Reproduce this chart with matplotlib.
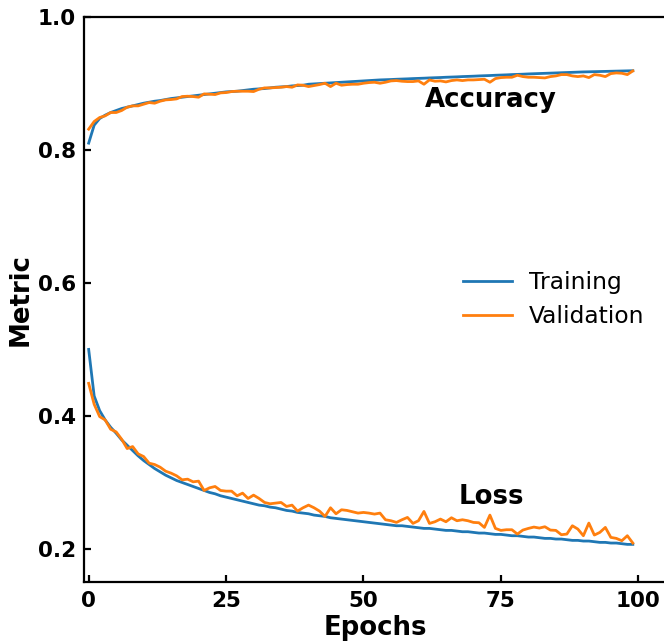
import matplotlib
matplotlib.use("Agg")
import matplotlib.pyplot as plt

epochs = list(range(100))

train_loss = [0.500, 0.430, 0.408, 0.394, 0.383, 0.374, 0.364, 0.356, 0.348, 0.340,
              0.333, 0.327, 0.321, 0.316, 0.311, 0.307, 0.303, 0.300, 0.297, 0.294,
              0.291, 0.288, 0.285, 0.283, 0.280, 0.278, 0.276, 0.274, 0.272, 0.270,
              0.268, 0.266, 0.265, 0.263, 0.262, 0.260, 0.258, 0.257, 0.255, 0.254,
              0.253, 0.251, 0.250, 0.249, 0.247, 0.246, 0.245, 0.244, 0.243, 0.242,
              0.241, 0.240, 0.239, 0.238, 0.237, 0.236, 0.235, 0.235, 0.234, 0.233,
              0.232, 0.231, 0.231, 0.230, 0.229, 0.228, 0.228, 0.227, 0.226, 0.226,
              0.225, 0.224, 0.224, 0.223, 0.222, 0.222, 0.221, 0.220, 0.220, 0.219,
              0.218, 0.218, 0.217, 0.216, 0.216, 0.215, 0.215, 0.214, 0.213, 0.213,
              0.212, 0.212, 0.211, 0.210, 0.210, 0.209, 0.209, 0.208, 0.207, 0.207]

val_loss = [0.449, 0.4175, 0.399, 0.394, 0.380, 0.376, 0.365, 0.351, 0.354, 0.343,
            0.339, 0.329, 0.327, 0.323, 0.317, 0.314, 0.310, 0.304, 0.305, 0.301,
            0.302, 0.288, 0.292, 0.294, 0.288, 0.287, 0.287, 0.280, 0.284, 0.276,
            0.281, 0.276, 0.270, 0.268, 0.269, 0.270, 0.264, 0.266, 0.257, 0.262,
            0.266, 0.262, 0.257, 0.249, 0.262, 0.253, 0.259, 0.258, 0.256, 0.254,
            0.255, 0.254, 0.2525, 0.254, 0.244, 0.2425, 0.240, 0.244, 0.2475, 0.2385,
            0.2425, 0.2565, 0.2385, 0.241, 0.245, 0.241, 0.247, 0.2425, 0.244, 0.2425,
            0.240, 0.2395, 0.2325, 0.251, 0.231, 0.228, 0.229, 0.229, 0.2225, 0.2285,
            0.231, 0.233, 0.2315, 0.2335, 0.2285, 0.228, 0.2215, 0.2225, 0.235, 0.230,
            0.220, 0.239, 0.221, 0.225, 0.2325, 0.2175, 0.216, 0.2125, 0.220, 0.209]

train_acc = [0.810, 0.837, 0.847, 0.852, 0.856, 0.859, 0.862, 0.864, 0.866, 0.868,
             0.870, 0.8715, 0.873, 0.874, 0.8755, 0.877, 0.878, 0.879, 0.880, 0.881,
             0.882, 0.883, 0.884, 0.885, 0.886, 0.887, 0.8875, 0.888, 0.889, 0.890,
             0.891, 0.8915, 0.892, 0.893, 0.894, 0.8945, 0.895, 0.896, 0.8965, 0.897,
             0.8985, 0.899, 0.8995, 0.900, 0.9005, 0.901, 0.9015, 0.902, 0.9025, 0.903,
             0.9035, 0.904, 0.9045, 0.905, 0.9053, 0.9056, 0.906, 0.9063, 0.9066, 0.907,
             0.9073, 0.9076, 0.908, 0.9083, 0.9086, 0.909, 0.9093, 0.9096, 0.910, 0.9103,
             0.9106, 0.911, 0.9113, 0.9116, 0.912, 0.9123, 0.9126, 0.913, 0.9133, 0.9136,
             0.914, 0.9143, 0.9146, 0.9149, 0.9152, 0.9155, 0.9158, 0.9161, 0.9164, 0.9167,
             0.917, 0.9172, 0.9174, 0.9176, 0.9178, 0.918, 0.9182, 0.9184, 0.9186, 0.9188]

val_acc = [0.831, 0.8425, 0.8485, 0.851, 0.856, 0.856, 0.859, 0.864, 0.866, 0.866,
           0.8685, 0.871, 0.870, 0.873, 0.875, 0.8755, 0.8765, 0.880, 0.8805, 0.880,
           0.879, 0.884, 0.8835, 0.883, 0.8855, 0.886, 0.8875, 0.888, 0.888, 0.888,
           0.8875, 0.891, 0.893, 0.893, 0.8935, 0.894, 0.895, 0.894, 0.8975, 0.897,
           0.895, 0.8965, 0.898, 0.900, 0.895, 0.900, 0.897, 0.898, 0.8985, 0.8985,
           0.900, 0.901, 0.9015, 0.900, 0.9015, 0.9035, 0.904, 0.903, 0.9025, 0.9025,
           0.9035, 0.8985, 0.905, 0.903, 0.9035, 0.902, 0.904, 0.905, 0.904, 0.905,
           0.905, 0.9055, 0.906, 0.9015, 0.907, 0.9085, 0.909, 0.909, 0.912, 0.910,
           0.909, 0.909, 0.9085, 0.908, 0.910, 0.911, 0.913, 0.913, 0.911, 0.910,
           0.911, 0.9085, 0.913, 0.912, 0.910, 0.9145, 0.9155, 0.915, 0.913, 0.9185]

x_ticks = [0, 25, 50, 75, 100]
x_tick_labels = ["0", "25", "50", "75", "100"]
y_ticks = [0.2, 0.4, 0.6, 0.8, 1.0]
y_tick_labels = ["0.2", "0.4", "0.6", "0.8", "1.0"]

W, H = 664, 641
fig = plt.figure(figsize=(W / 100, H / 100), dpi=100)
ax = fig.add_axes([84 / W, 1 - 582.3 / H, 581.8 / W, (582.3 - 16.7) / H])

blue = "#1f77b4"
orange = "#ff7f0e"
lw = 2.0
ax.plot(epochs, train_acc, color=blue, lw=lw, label="Training")
ax.plot(epochs, train_loss, color=blue, lw=lw)
ax.plot(epochs, val_acc, color=orange, lw=lw, label="Validation")
ax.plot(epochs, val_loss, color=orange, lw=lw)

ax.set_xlim(-0.85, 105.0)
ax.set_ylim(0.15, 1.0)
ax.set_xticks(x_ticks)
ax.set_xticklabels(x_tick_labels)
ax.set_yticks(y_ticks)
ax.set_yticklabels(y_tick_labels)

for s in ax.spines.values():
    s.set_linewidth(1.6)
ax.spines["right"].set_visible(False)

ax.tick_params(direction="in", length=5, width=1.6, pad=6, labelsize=15.5)
for lab in ax.get_xticklabels() + ax.get_yticklabels():
    lab.set_fontweight("bold")

ax.set_xlabel("Epochs", fontsize=18.7, fontweight="bold", labelpad=3.5)
ax.set_ylabel("Metric", fontsize=18.7, fontweight="bold", labelpad=2.5)

ax.text(73.2, 0.8645, "Accuracy", ha="center", va="baseline", fontsize=18.7, fontweight="bold")
ax.text(73.25, 0.2675, "Loss", ha="center", va="baseline", fontsize=18.7, fontweight="bold")

ax.legend(loc="center right", frameon=False, fontsize=16.8, handlelength=2.1,
          handletextpad=0.75, labelspacing=0.45)

fig.savefig("out.png", dpi=100)
